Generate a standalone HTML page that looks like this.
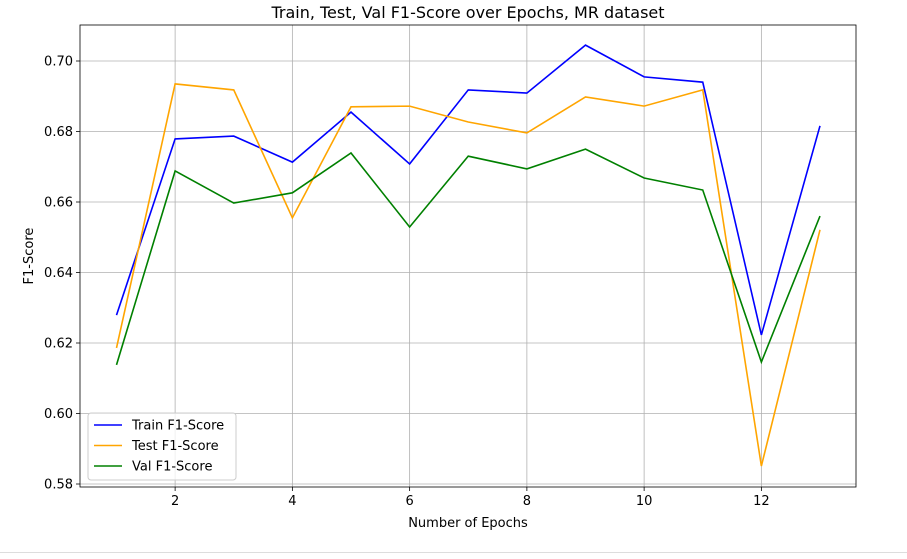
<!DOCTYPE html>
<html><head><meta charset="utf-8"><style>
body{margin:0;background:#fff;font-family:"Liberation Sans","DejaVu Sans",sans-serif}
svg text{font-family:"DejaVu Sans","Liberation Sans",sans-serif}
</style></head><body>
<svg id="c" width="907" height="554"></svg>
<script>
const epochs=[1,2,3,4,5,6,7,8,9,10,11,12,13];
const trainF1=[0.6279,0.6779,0.6787,0.6713,0.6855,0.6708,0.6918,0.6909,0.7045,0.6955,0.6940,0.6223,0.6816];
const testF1=[0.6186,0.6935,0.6918,0.6555,0.6870,0.6872,0.6827,0.6796,0.6898,0.6872,0.6918,0.5851,0.6521];
const valF1=[0.6138,0.6688,0.6597,0.6626,0.6739,0.6529,0.6730,0.6694,0.6750,0.6668,0.6634,0.6146,0.6560];
const xTicks=[2,4,6,8,10,12];
const yTicks=[0.58,0.60,0.62,0.64,0.66,0.68,0.70];
const seriesNames=["Train F1-Score","Test F1-Score","Val F1-Score"];
const L=80,R=856,T=25,B=487;
const xs=v=>116.5+(v-1)*(820-116.5)/12;
const ys=v=>61+(0.70-v)*3525;
const svg=document.getElementById('c');
const NS='http://www.w3.org/2000/svg';
function mk(t,a,p){const e=document.createElementNS(NS,t);for(const k in a)e.setAttribute(k,a[k]);(p||svg).appendChild(e);return e;}
const bg=mk('rect',{x:L,y:T,width:R-L,height:B-T,fill:'#fff',stroke:'none'});


xTicks.forEach(v=>{const x=xs(v);
const g=mk('line',{x1:x,x2:x,y1:T,y2:B,stroke:'#b0b0b0','stroke-width':0.8});


mk('line',{x1:x,x2:x,y1:B,y2:B+4,stroke:'#000','stroke-width':0.8});
const t=mk('text',{x:x,y:B+18,'text-anchor':'middle','font-size':13});t.textContent=v;

});
yTicks.forEach(v=>{const y=ys(v);
const g=mk('line',{x1:L,x2:R,y1:y,y2:y,stroke:'#b0b0b0','stroke-width':0.8});


mk('line',{x1:L-4,x2:L,y1:y,y2:y,stroke:'#000','stroke-width':0.8});
const t=mk('text',{x:L-7,y:y+4.5,'text-anchor':'end','font-size':13});t.textContent=v.toFixed(2);

});
const colors=['#0000ff','#ffa500','#008000'];
[trainF1,testF1,valF1].forEach((s,i)=>{
const p=mk('polyline',{points:s.map((v,j)=>xs(epochs[j])+','+ys(v)).join(' '),fill:'none',stroke:colors[i],'stroke-width':1.6});

});
const fr=mk('rect',{x:L,y:T,width:R-L,height:B-T,fill:'none',stroke:'#000','stroke-width':0.8});


const ti=mk('text',{x:468,y:18,'text-anchor':'middle','font-size':16});ti.textContent='Train, Test, Val F1-Score over Epochs, MR dataset';


const xl=mk('text',{x:468,y:527,'text-anchor':'middle','font-size':13});xl.textContent='Number of Epochs';


const yl=mk('text',{x:33,y:256,'text-anchor':'middle','font-size':13,transform:'rotate(-90 33 256)'});yl.textContent='F1-Score';


const lg=mk('g',{});


mk('rect',{x:88,y:413,width:148,height:67,rx:3,fill:'#fff','fill-opacity':0.8,stroke:'#ccc'},lg);
seriesNames.forEach((n,i)=>{const y=425+i*20.5;
mk('line',{x1:94,x2:122,y1:y,y2:y,stroke:colors[i],'stroke-width':1.6},lg);
const t=mk('text',{x:132,y:y+4.5,'font-size':13},lg);t.textContent=n;

});
mk('line',{x1:0,x2:907,y1:552.5,y2:552.5,stroke:'#ddd'});
</script>
</body></html>
